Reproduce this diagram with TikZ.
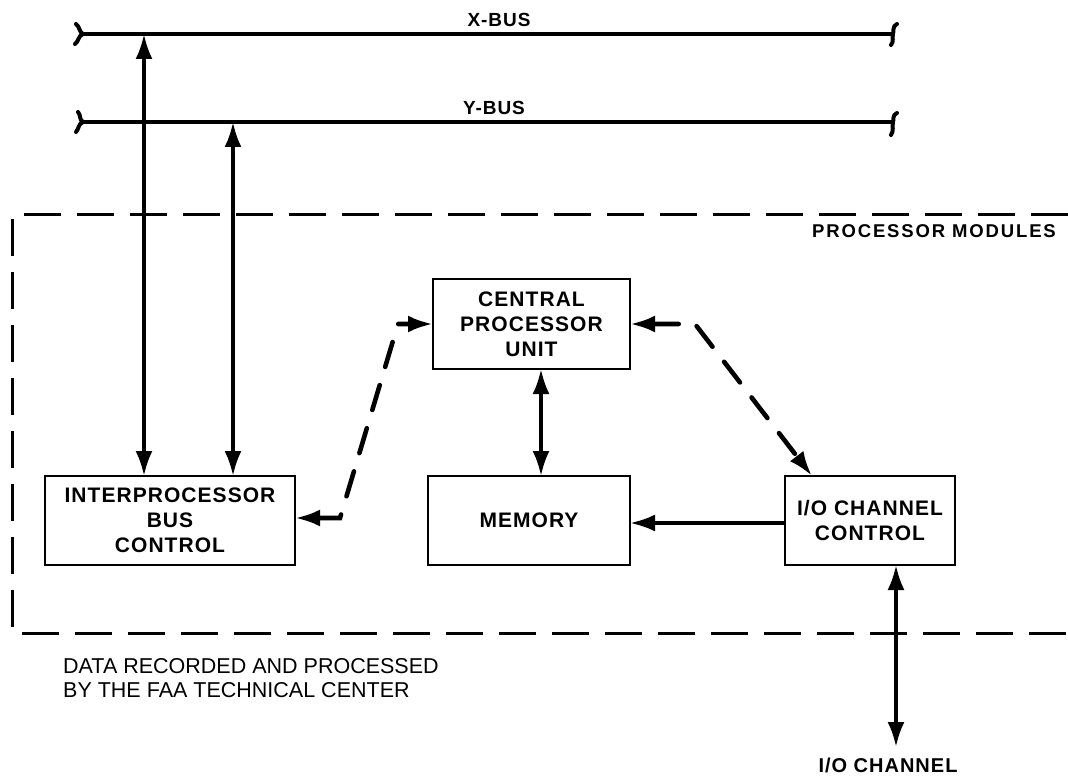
\documentclass[tikz,border=0pt]{standalone}
\usepackage{fontspec}
\setmainfont{Liberation Sans}
\newfontfamily\lblfont[LetterSpace=5]{Liberation Sans}
\newfontfamily\widefont[LetterSpace=10]{Liberation Sans}
\usetikzlibrary{arrows.meta}
\begin{document}
\begin{tikzpicture}[x=1pt,y=-1pt,
  box/.style={draw,line width=2.2pt,inner sep=0pt,outer sep=0pt,minimum height=89pt,align=center,
    font=\lblfont\bfseries\fontsize{21}{25}\selectfont},
  arr/.style={line width=3.6pt,{Latex[length=25pt,width=17pt]}-{Latex[length=25pt,width=17pt]}},
  arrone/.style={line width=3.6pt,-{Latex[length=25pt,width=17pt]}},
  dconn/.style={line width=4.6pt,line cap=round,dash pattern=on 26pt off 19pt,
    {Latex[length=25pt,width=17pt]}-{Latex[length=25pt,width=17pt]}},
  dashbox/.style={line width=3pt,dash pattern=on 37pt off 16pt},
  bus/.style={line width=3.8pt},
  busend/.style={line width=4pt,line cap=round},
  buslbl/.style={font=\lblfont\bfseries\fontsize{19}{22}\selectfont,inner sep=0pt},
  plain/.style={font=\fontsize{21.5}{25}\selectfont,inner sep=0pt}
]
\useasboundingbox (0,0) rectangle (1068,778);

% dashed module boundary
\draw[dashbox] (1068,215) -- (12,215) -- (12,633) -- (1068,633);
\node[font=\widefont\bfseries\fontsize{18.5}{22}\selectfont,inner sep=0pt,anchor=base east] (pm) at (1056,237) {PROCESSOR MODULES};

% buses
\coordinate (xbL) at (83,34);
\coordinate (xbR) at (893,34);
\coordinate (ybL) at (83,122);
\coordinate (ybR) at (893,122);
\draw[bus] (xbL) -- (xbR);
\draw[bus] (ybL) -- (ybR);
\draw[busend] (76,24) .. controls (80,27) and (79,32) .. (xbL) .. controls (78,36) and (79,41) .. (75,44);
\draw[busend] (78,112) .. controls (81,115) and (79,120) .. (ybL) .. controls (78,124) and (79,129) .. (76,132);
\draw[busend] (897,24) .. controls (892,26) and (894,32) .. (xbR) .. controls (892,37) and (894,42) .. (891,45);
\draw[busend] (897,113) .. controls (892,115) and (894,120) .. (ybR) .. controls (892,126) and (894,131) .. (891,135);
\node[buslbl,anchor=base] (xl) at (499,27) {X-BUS};
\node[buslbl,anchor=base] (yl) at (494,115) {Y-BUS};

% boxes
\node[box,minimum width=250pt] (ipc) at (170,520.5) {INTERPROCESSOR\\BUS\\CONTROL};
\node[box,minimum width=197pt,minimum height=90pt] (cpu) at (531.5,324) {CENTRAL\\PROCESSOR\\UNIT};
\node[box,minimum width=202pt] (mem) at (529,520.5) {MEMORY};
\node[box,minimum width=170pt] (ioc) at (870,520.5) {I/O CHANNEL\\CONTROL};

% bus taps
\coordinate (xt) at (144,34);
\coordinate (yt) at (233,122);
\draw[arr] (xt) -- (xt |- ipc.north);
\draw[arr] (yt) -- (yt |- ipc.north);

% cpu - memory
\draw[arr] ([xshift=9.5pt]cpu.south) -- ([xshift=12pt]mem.north);
% io -> memory
\draw[arrone] (ioc.west |- 0,523) -- (mem.east |- 0,523);

% dashed connectors
\coordinate (c1) at (340,518);
\coordinate (c2) at (398,324);
\draw[dconn] (ipc.east |- c1) -- (c1) -- (c2) -- (cpu.west |- c2);
\coordinate (c3) at (695,324);
\draw[dconn] (cpu.east |- c3) -- (c3) -- (ioc.north west -| 812,0);

% io channel
\coordinate (ioend) at (896,747);
\draw[arr] (ioc.south -| ioend) -- (ioend);
\node[buslbl,font=\lblfont\bfseries\fontsize{20}{22}\selectfont,anchor=base] (iol) at (888,772) {I/O CHANNEL};

% caption
\node[plain,anchor=base west] (cap1) at (63,673) {DATA RECORDED AND PROCESSED};
\node[plain,anchor=base west] (cap2) at (63,697) {BY THE FAA TECHNICAL CENTER};
\end{tikzpicture}
\end{document}
